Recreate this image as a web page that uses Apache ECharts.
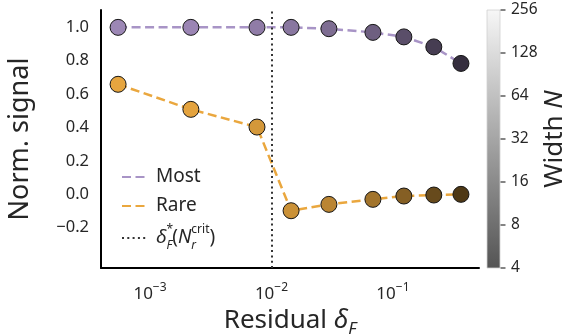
<!DOCTYPE html>
<html><head><meta charset="utf-8">
<script src="https://cdn.jsdelivr.net/npm/echarts@6/dist/echarts.min.js"></script>
<style>html,body{margin:0;padding:0;background:#fff}#c{width:563px;height:335px}</style>
</head><body><div id="c"></div>
<script>
// ---- data ----
const residuals  = [5.46e-4, 2.17e-3, 7.6e-3, 0.0145, 0.0297, 0.0684, 0.123, 0.217, 0.363];
const mostSignal = [1.0, 1.0, 1.0, 1.0, 0.992, 0.97, 0.943, 0.883, 0.784];
const rareSignal = [0.659, 0.509, 0.403, -0.098, -0.06, -0.03, -0.01, -0.004, 0.0];
const widths     = [256, 240, 155, 120, 76, 40, 18, 8, 4];
const deltaCrit  = 0.0104;
const xTicks     = [1e-3, 1e-2, 1e-1];
const yTicks     = [-0.2, 0, 0.2, 0.4, 0.6, 0.8, 1.0];
const widthTicks = [4, 8, 16, 32, 64, 128, 256];

// ---- styling helpers ----
const FONT = 'Noto Sans';
const TXT = '#262626';
const mostBase = [161, 139, 187];
const rareBase = [237, 170, 65];
function grey(N) { return 0.33 + (Math.log2(N) - 2) / 6 * 0.64; }
function shade(rgb, f) { return 'rgb(' + rgb.map(c => Math.round(c * f)).join(',') + ')'; }
function g255(f) { const v = Math.round(255 * f); return 'rgb(' + v + ',' + v + ',' + v + ')'; }

const chart = echarts.init(document.getElementById('c'), null, { renderer: 'canvas' });

const markerStyle = { borderColor: '#151515', borderWidth: 1 };
function pts(vals, base) {
  return residuals.map((x, i) => ({
    value: [x, vals[i]],
    itemStyle: Object.assign({ color: shade(base, grey(widths[i])) }, markerStyle)
  }));
}

const option = {
  animation: false,
  backgroundColor: '#fff',
  textStyle: { fontFamily: FONT, color: TXT },
  grid: [
    { left: 101, right: 84, top: 10, bottom: 67, containLabel: false, outerBoundsMode: 'none' },
    { left: 487, right: 63, top: 10, bottom: 67, containLabel: false, outerBoundsMode: 'none' }
  ],
  xAxis: [
    {
      type: 'log', gridIndex: 0, min: 3.95e-4, max: 0.511, logBase: 10,
      axisLine: { show: true, onZero: false, lineStyle: { color: '#000', width: 2 } },
      axisTick: { show: false },
      minorTick: { show: false },
      splitLine: { show: false },
      axisLabel: {
        customValues: xTicks, margin: 14, color: TXT, fontFamily: FONT,
        formatter: v => '{b|10}{s|\u2212' + Math.round(-Math.log10(v)) + '}',
        rich: {
          b: { fontSize: 17, fontFamily: FONT, color: TXT, lineHeight: 21, verticalAlign: 'bottom' },
          s: { fontSize: 12, fontFamily: FONT, color: TXT, lineHeight: 21, verticalAlign: 'top' }
        }
      },
      name: '{t|Residual }{i|δ}{sub|F}', nameLocation: 'middle', nameGap: 36,
      nameTextStyle: {
        rich: {
          t: { fontSize: 26, fontFamily: FONT, color: TXT, lineHeight: 34, verticalAlign: 'middle' },
          i: { fontSize: 26, fontFamily: FONT, fontStyle: 'italic', color: TXT, lineHeight: 34, verticalAlign: 'middle' },
          sub: { fontSize: 17, fontFamily: FONT, fontStyle: 'italic', color: TXT, lineHeight: 26, verticalAlign: 'bottom' }
        }
      }
    },
    { type: 'value', gridIndex: 1, min: 0, max: 1, show: false }
  ],
  yAxis: [
    {
      type: 'value', gridIndex: 0, min: -0.441, max: 1.104,
      axisLine: { show: true, onZero: false, lineStyle: { color: '#000', width: 2 } },
      axisTick: { show: false },
      splitLine: { show: false },
      axisLabel: {
        customValues: yTicks, margin: 12, fontSize: 16.5, color: TXT, fontFamily: FONT,
        formatter: v => (v < 0 ? '\u2212' : '') + Math.abs(v).toFixed(1)
      },
      name: 'Norm. signal', nameLocation: 'middle', nameGap: 67, nameRotate: 90,
      nameTextStyle: { fontSize: 27, fontFamily: FONT, color: TXT }
    },
    {
      type: 'log', logBase: 2, gridIndex: 1, min: 4, max: 256, position: 'right',
      axisLine: { show: false },
      axisTick: { show: false },
      minorTick: { show: false },
      splitLine: { show: false },
      axisLabel: { customValues: widthTicks, margin: 11, fontSize: 15.5, color: TXT, fontFamily: FONT },
      name: '{t|Width }{i|N}', nameLocation: 'middle', nameGap: 36, nameRotate: 90,
      nameTextStyle: {
        rich: {
          t: { fontSize: 26, fontFamily: FONT, color: TXT },
          i: { fontSize: 26, fontFamily: FONT, fontStyle: 'italic', color: TXT }
        }
      }
    }
  ],
  legend: {
    orient: 'vertical', left: 116, top: 161,
    itemWidth: 26, itemHeight: 14, itemGap: 7,
    data: ['Most', 'Rare', 'crit'],
    itemStyle: { opacity: 0 },
    textStyle: {
      fontSize: 19, fontFamily: FONT, color: TXT, lineHeight: 22, padding: [0, 0, 0, 3],
      rich: {
        n: { fontSize: 19, fontFamily: FONT, color: TXT, lineHeight: 28 },
        i: { fontSize: 19, fontFamily: FONT, fontStyle: 'italic', color: TXT, lineHeight: 28 },
        supz: { fontSize: 12, fontFamily: FONT, color: TXT, lineHeight: 26, verticalAlign: 'top', width: 0 },
        sub: { fontSize: 12, fontFamily: FONT, fontStyle: 'italic', color: TXT, lineHeight: 26, verticalAlign: 'bottom' },
        subz: { fontSize: 12, fontFamily: FONT, fontStyle: 'italic', color: TXT, lineHeight: 26, verticalAlign: 'bottom', width: 0 },
        sup: { fontSize: 12, fontFamily: FONT, color: TXT, lineHeight: 26, verticalAlign: 'top' }
      }
    },
    formatter: name => name === 'crit'
      ? '{i|δ}{supz|*}{sub|F}{n|(}{i|N}{subz|r}{sup|crit}{n|)}'
      : name
  },
  series: [
    {
      name: 'Most', type: 'line', xAxisIndex: 0, yAxisIndex: 0,
      data: pts(mostSignal, mostBase),
      symbol: 'circle', symbolSize: 16, z: 3,
      itemStyle: { color: '#a48fc4' },
      lineStyle: { color: '#a894c6', width: 2.5, type: [9, 4.5] }
    },
    {
      name: 'Rare', type: 'line', xAxisIndex: 0, yAxisIndex: 0,
      data: pts(rareSignal, rareBase),
      symbol: 'circle', symbolSize: 16, z: 3,
      itemStyle: { color: '#e9a63e' },
      lineStyle: { color: '#eaa73e', width: 2.5, type: [9, 4.5] }
    },
    {
      name: 'crit', type: 'line', xAxisIndex: 0, yAxisIndex: 0,
      data: [], symbol: 'none', z: 2,
      itemStyle: { color: '#333' },
      lineStyle: { color: '#333', width: 2, type: [2, 3.3] },
      markLine: {
        silent: true, symbol: 'none', animation: false,
        label: { show: false },
        lineStyle: { color: '#333', width: 2, type: [2, 3.3] },
        emphasis: { disabled: true },
        data: [{ xAxis: deltaCrit }]
      }
    },
    {
      name: 'colorbar', type: 'custom', xAxisIndex: 1, yAxisIndex: 1,
      data: [[0, 4, 256]], silent: true, clip: false,
      renderItem: (params, api) => {
        const p0 = api.coord([0, api.value(2)]);
        const p1 = api.coord([1, api.value(1)]);
        return {
          type: 'rect',
          shape: { x: p0[0], y: p0[1], width: p1[0] - p0[0], height: p1[1] - p0[1] },
          style: {
            fill: new echarts.graphic.LinearGradient(0, 0, 0, 1, [
              { offset: 0, color: g255(grey(256)) },
              { offset: 1, color: g255(grey(4)) }
            ]),
            stroke: '#d0d0d0', lineWidth: 0.8
          }
        };
      }
    },
    {
      name: 'cbticks', type: 'scatter', xAxisIndex: 1, yAxisIndex: 1,
      data: widthTicks.map(t => [1, t]), silent: true, clip: false, z: 5,
      symbol: 'rect', symbolSize: [5, 1.2], symbolOffset: [3, 0],
      itemStyle: { color: '#333', opacity: 1 }
    }
  ]
};
chart.setOption(option);
</script>
</body></html>
